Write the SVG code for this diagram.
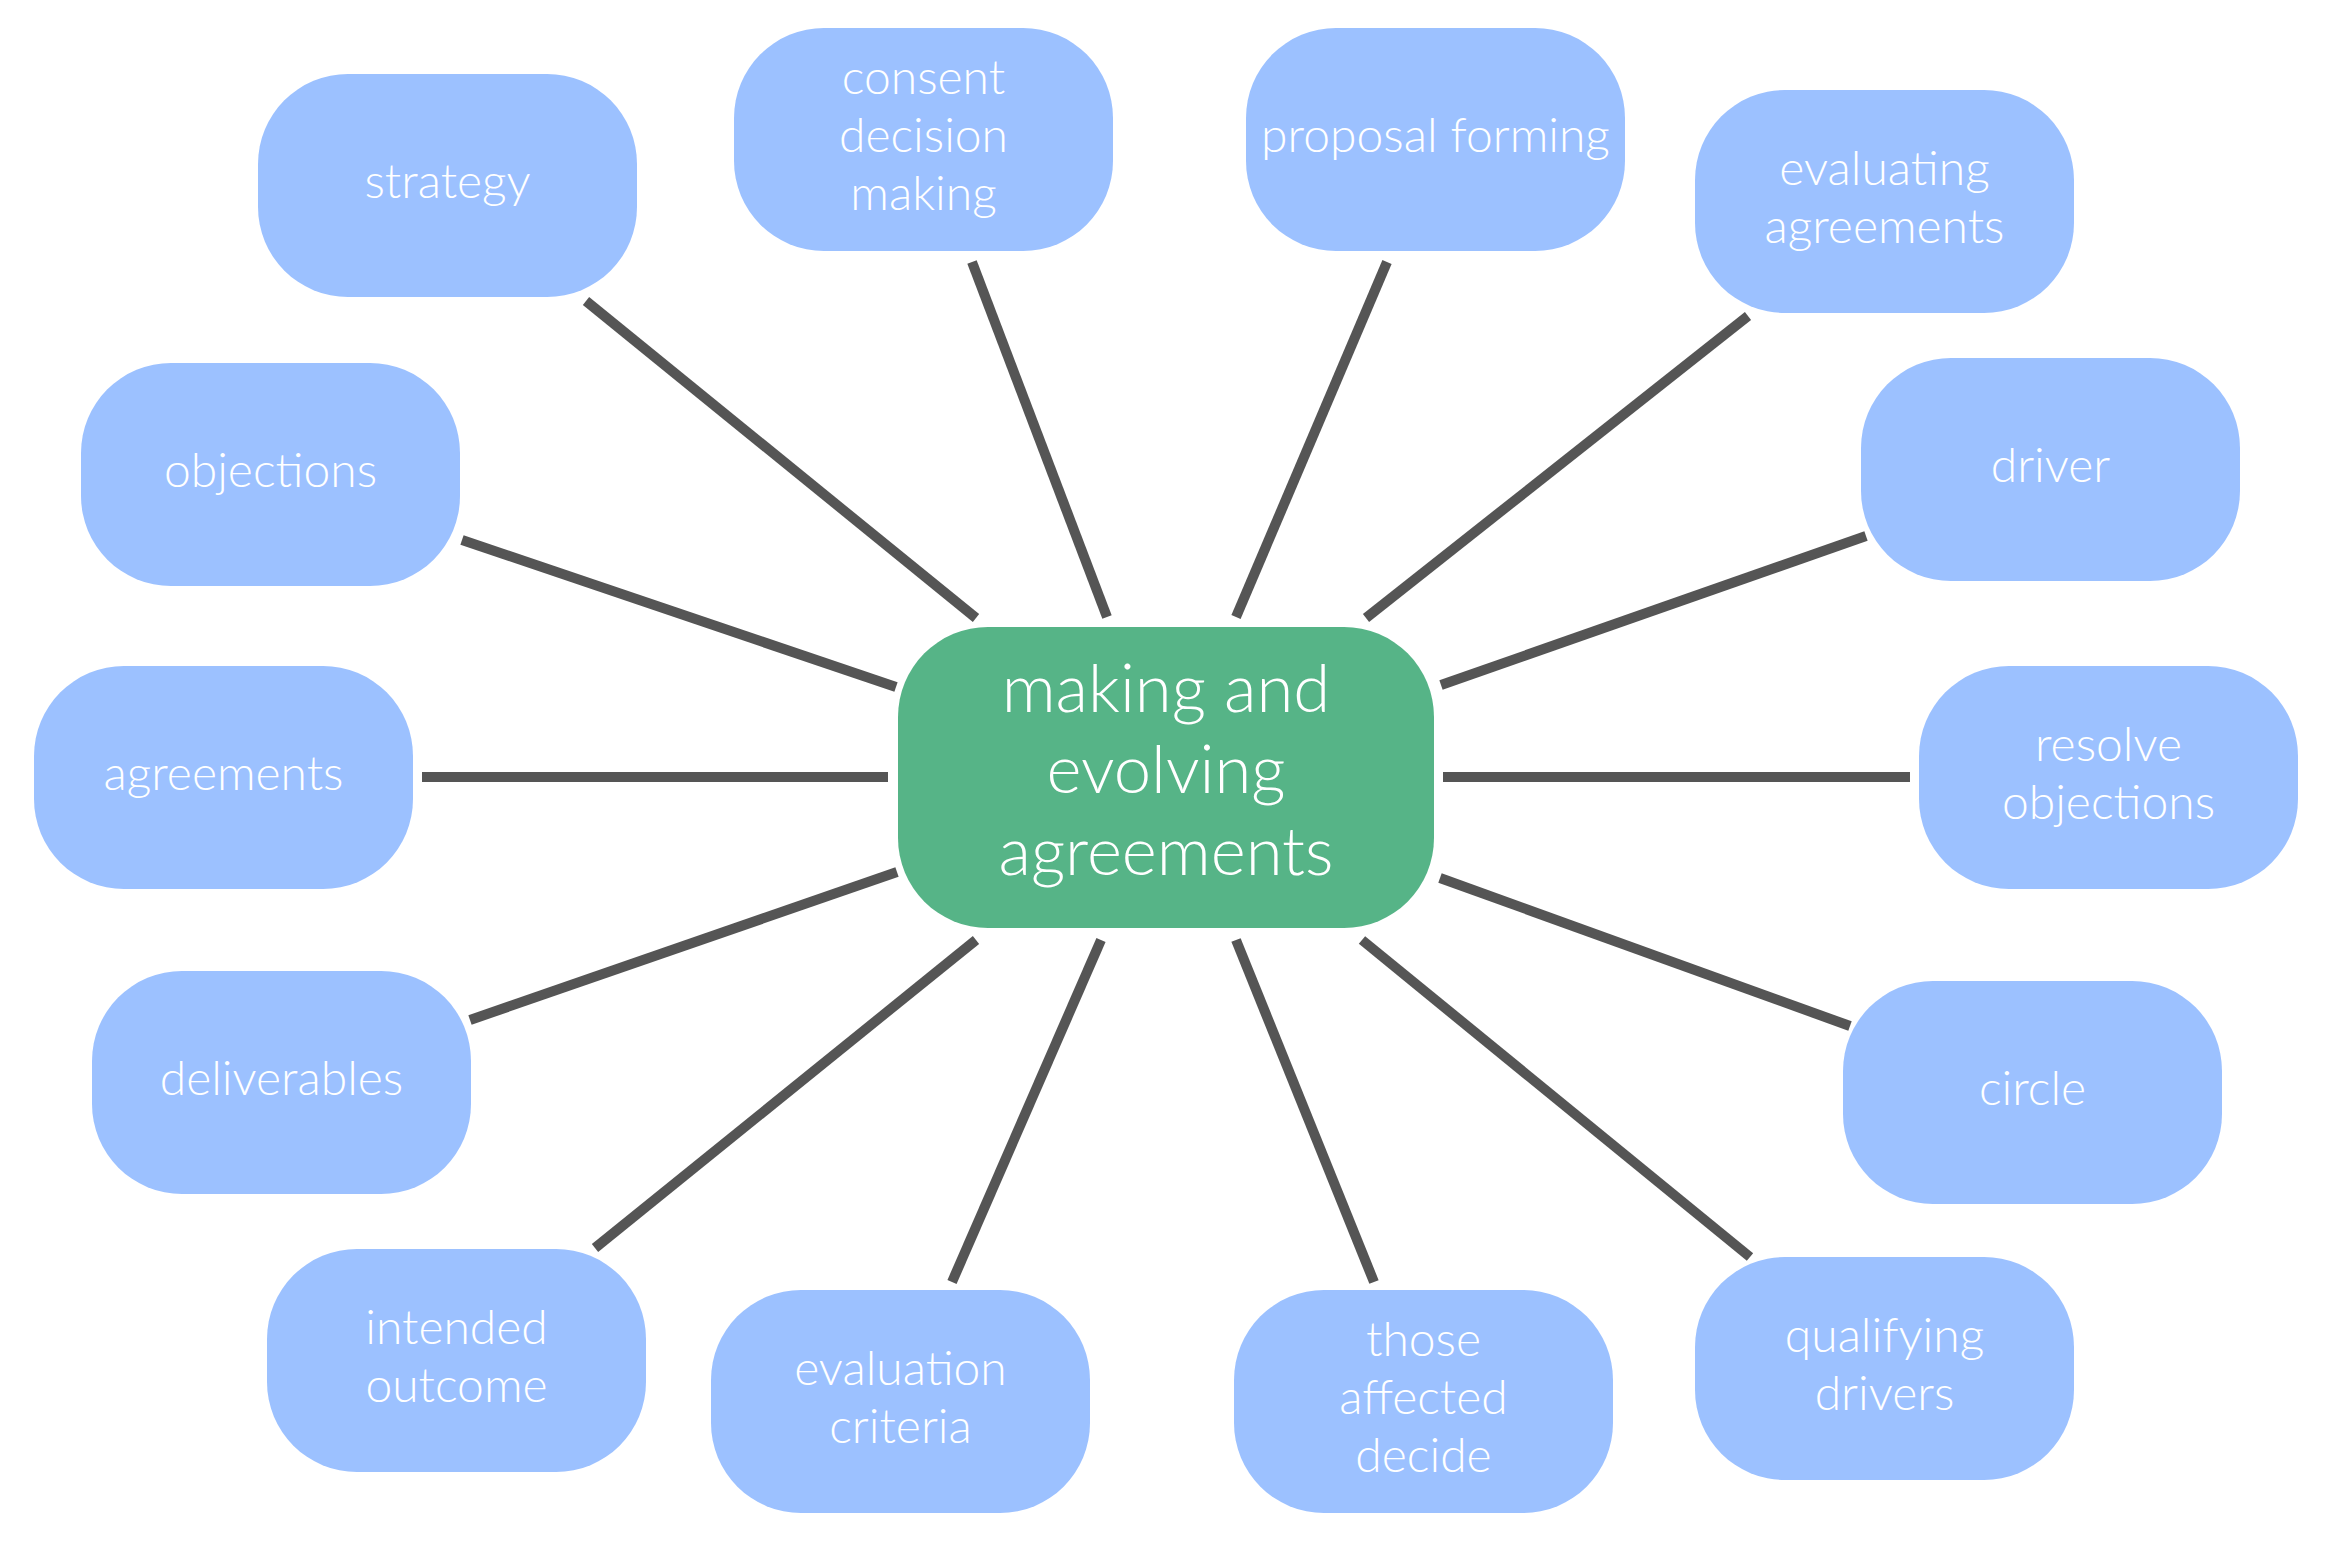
<svg xmlns="http://www.w3.org/2000/svg" width="2333" height="1555" viewBox="0 0 2333 1555">
<style>
.bg{fill:#ffffff}
.n rect{fill:#9CC1FF}
.c rect{fill:#56B487}
text{font-family:Lato,"Open Sans","Liberation Sans",sans-serif;fill:#ffffff;text-anchor:middle;font-weight:300}
.n text{font-size:48px}
.c text{font-size:67px}
.e line{stroke:#555555;stroke-width:10;stroke-linecap:butt}
</style>
<rect class="bg" x="0" y="0" width="2333" height="1555"/>
<g id="connectors" class="e">
<line x1="586" y1="301" x2="976" y2="618"/>
<line x1="972" y1="262" x2="1107" y2="617"/>
<line x1="1387" y1="262" x2="1236" y2="617"/>
<line x1="1748" y1="316" x2="1366" y2="618"/>
<line x1="1866" y1="536" x2="1441" y2="685"/>
<line x1="1443" y1="777" x2="1910" y2="777"/>
<line x1="1440" y1="878" x2="1850" y2="1026"/>
<line x1="1362" y1="940" x2="1750" y2="1257"/>
<line x1="1236" y1="940" x2="1374" y2="1282"/>
<line x1="1101" y1="940" x2="952" y2="1282"/>
<line x1="976" y1="940" x2="595" y2="1248"/>
<line x1="897" y1="872" x2="470" y2="1020"/>
<line x1="422" y1="777" x2="888" y2="777"/>
<line x1="462" y1="540" x2="896" y2="687"/>
</g>
<g id="center" class="c">
<rect x="898" y="627" width="536" height="301" rx="90" ry="90"/>
<text x="1166" y="711.5">making and</text>
<text x="1166" y="793">evolving</text>
<text x="1166" y="874.5">agreements</text>
</g>
<g id="strategy" class="n">
<rect x="258" y="74" width="379" height="223" rx="90" ry="90"/>
<text x="447.5" y="197.5">strategy</text>
</g>
<g id="consent" class="n">
<rect x="734" y="28" width="379" height="223" rx="90" ry="90"/>
<text x="923.5" y="93.5">consent</text>
<text x="923.5" y="151.5">decision</text>
<text x="923.5" y="209.5">making</text>
</g>
<g id="proposal" class="n">
<rect x="1246" y="28" width="379" height="223" rx="90" ry="90"/>
<text x="1435.5" y="151.5">proposal forming</text>
</g>
<g id="evaluating" class="n">
<rect x="1695" y="90" width="379" height="223" rx="90" ry="90"/>
<text x="1884.5" y="184.5">evaluating</text>
<text x="1884.5" y="242.5">agreements</text>
</g>
<g id="driver" class="n">
<rect x="1861" y="358" width="379" height="223" rx="90" ry="90"/>
<text x="2050.5" y="481.5">driver</text>
</g>
<g id="resolve" class="n">
<rect x="1919" y="666" width="379" height="223" rx="90" ry="90"/>
<text x="2108.5" y="760.5">resolve</text>
<text x="2108.5" y="818.5">objections</text>
</g>
<g id="circle" class="n">
<rect x="1843" y="981" width="379" height="223" rx="90" ry="90"/>
<text x="2032.5" y="1104.5">circle</text>
</g>
<g id="qualifying" class="n">
<rect x="1695" y="1257" width="379" height="223" rx="90" ry="90"/>
<text x="1884.5" y="1351.5">qualifying</text>
<text x="1884.5" y="1409.5">drivers</text>
</g>
<g id="those" class="n">
<rect x="1234" y="1290" width="379" height="223" rx="90" ry="90"/>
<text x="1423.5" y="1355.5">those</text>
<text x="1423.5" y="1413.5">affected</text>
<text x="1423.5" y="1471.5">decide</text>
</g>
<g id="evalcrit" class="n">
<rect x="711" y="1290" width="379" height="223" rx="90" ry="90"/>
<text x="900.5" y="1384.5">evaluation</text>
<text x="900.5" y="1442.5">criteria</text>
</g>
<g id="intended" class="n">
<rect x="267" y="1249" width="379" height="223" rx="90" ry="90"/>
<text x="456.5" y="1343.5">intended</text>
<text x="456.5" y="1401.5">outcome</text>
</g>
<g id="deliverables" class="n">
<rect x="92" y="971" width="379" height="223" rx="90" ry="90"/>
<text x="281.5" y="1094.5">deliverables</text>
</g>
<g id="agreements" class="n">
<rect x="34" y="666" width="379" height="223" rx="90" ry="90"/>
<text x="223.5" y="789.5">agreements</text>
</g>
<g id="objections" class="n">
<rect x="81" y="363" width="379" height="223" rx="90" ry="90"/>
<text x="270.5" y="486.5">objections</text>
</g>
</svg>
